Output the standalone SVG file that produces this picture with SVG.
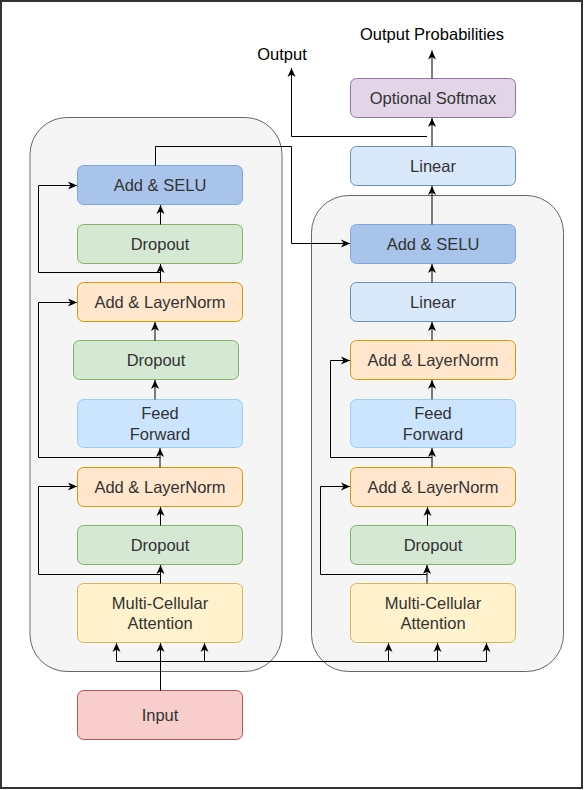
<svg xmlns="http://www.w3.org/2000/svg" width="584" height="790" viewBox="0 0 584 790">
<defs>
<style>
.t{font-family:"Liberation Sans",Arial,sans-serif;font-size:16.5px;fill:#333333;text-anchor:middle}
.lbl{font-family:"Liberation Sans",Arial,sans-serif;font-size:16.5px;fill:#000000;text-anchor:middle}
.panel{fill:#f5f5f5;stroke:#666666;stroke-width:1}
.selu{fill:#A9C4EB;stroke:#7EA6E0}
.drop{fill:#D5E8D4;stroke:#82B366}
.aln{fill:#FFE6CC;stroke:#D79B00}
.ff{fill:#CCE5FF;stroke:#99CCFF}
.mca{fill:#FFF2CC;stroke:#D6B656}
.inp{fill:#F8CECC;stroke:#B85450}
.lin{fill:#DAE8FC;stroke:#6C8EBF}
.soft{fill:#E1D5E7;stroke:#9673A6}
.c path{fill:none;stroke:#000000;stroke-width:1;marker-end:url(#a)}
.c path.n{marker-end:none}
</style>
<marker id="a" viewBox="-10 -5 10 10" refX="0" refY="0" markerWidth="10" markerHeight="10" orient="auto" markerUnits="userSpaceOnUse">
<path d="M0,0 L-9,-4 L-6.5,0 L-9,4 Z" fill="#000000"/>
</marker>
</defs>
<rect x="1" y="1" width="581" height="787" fill="#ffffff" stroke="#333333" stroke-width="2"/>
<g id="panel-left"><rect class="panel" x="30" y="117.5" width="252" height="554" rx="37" ry="37"/></g>
<g id="panel-right"><rect class="panel" x="311.5" y="195.5" width="252" height="476" rx="37" ry="37"/></g>

<g id="L_selu"><rect class="selu" x="77.5" y="165.5" width="165" height="39" rx="6"/><text class="t" x="160" y="191">Add &amp; SELU</text></g>
<g id="L_drop3"><rect class="drop" x="77.5" y="224.5" width="165" height="39" rx="6"/><text class="t" x="160" y="250">Dropout</text></g>
<g id="L_aln2"><rect class="aln" x="77.5" y="282.5" width="165" height="39" rx="6"/><text class="t" x="160" y="308">Add &amp; LayerNorm</text></g>
<g id="L_drop2"><rect class="drop" x="73.5" y="340.5" width="165" height="39" rx="6"/><text class="t" x="156" y="366">Dropout</text></g>
<g id="L_ff"><rect class="ff" x="77.5" y="399.5" width="165" height="48" rx="6"/><text class="t" x="160" y="419">Feed</text><text class="t" x="160" y="440">Forward</text></g>
<g id="L_aln1"><rect class="aln" x="77.5" y="467.5" width="165" height="39" rx="6"/><text class="t" x="160" y="493">Add &amp; LayerNorm</text></g>
<g id="L_drop1"><rect class="drop" x="77.5" y="525.5" width="165" height="39" rx="6"/><text class="t" x="160" y="551">Dropout</text></g>
<g id="L_mca"><rect class="mca" x="77.5" y="583.5" width="165" height="59" rx="6"/><text class="t" x="160" y="609">Multi-Cellular</text><text class="t" x="160" y="629">Attention</text></g>
<g id="input"><rect class="inp" x="77.5" y="690.5" width="165" height="49" rx="6"/><text class="t" x="160" y="721">Input</text></g>

<g id="softmax"><rect class="soft" x="350.5" y="78.5" width="165" height="39" rx="6"/><text class="t" x="433" y="104">Optional Softmax</text></g>
<g id="linear_top"><rect class="lin" x="350.5" y="146.5" width="165" height="39" rx="6"/><text class="t" x="433" y="172">Linear</text></g>
<g id="R_selu"><rect class="selu" x="350.5" y="224.5" width="165" height="39" rx="6"/><text class="t" x="433" y="250">Add &amp; SELU</text></g>
<g id="R_linear"><rect class="lin" x="350.5" y="282.5" width="165" height="39" rx="6"/><text class="t" x="433" y="308">Linear</text></g>
<g id="R_aln2"><rect class="aln" x="350.5" y="340.5" width="165" height="39" rx="6"/><text class="t" x="433" y="366">Add &amp; LayerNorm</text></g>
<g id="R_ff"><rect class="ff" x="350.5" y="399.5" width="165" height="48" rx="6"/><text class="t" x="433" y="419">Feed</text><text class="t" x="433" y="440">Forward</text></g>
<g id="R_aln1"><rect class="aln" x="350.5" y="467.5" width="165" height="39" rx="6"/><text class="t" x="433" y="493">Add &amp; LayerNorm</text></g>
<g id="R_drop"><rect class="drop" x="350.5" y="525.5" width="165" height="39" rx="6"/><text class="t" x="433" y="551">Dropout</text></g>
<g id="R_mca"><rect class="mca" x="350.5" y="583.5" width="165" height="59" rx="6"/><text class="t" x="433" y="609">Multi-Cellular</text><text class="t" x="433" y="629">Attention</text></g>

<g id="label-output"><text class="lbl" x="282" y="60">Output</text></g>
<g id="label-probs"><text class="lbl" x="432" y="40">Output Probabilities</text></g>

<g id="connectors" class="c">
<path d="M160.5,690.5 V643"/>
<path class="n" d="M116.5,661.5 H486.5"/>
<path d="M116.5,661.5 V643"/>
<path d="M204.5,661.5 V643"/>
<path d="M388.5,661.5 V643"/>
<path d="M437.5,661.5 V643"/>
<path d="M486.5,661.5 V643"/>
<path d="M160.5,583.5 V565"/>
<path d="M160.5,574.5 H38.5 V486.5 H77"/>
<path d="M160.5,525.5 V507"/>
<path d="M160,467.5 V448"/>
<path d="M160.5,457.5 H38.5 V302.5 H77"/>
<path d="M155,399.5 V380"/>
<path d="M155,340.5 V322"/>
<path d="M160.5,282.5 V264"/>
<path d="M160.5,272.5 H38.5 V185.5 H77"/>
<path d="M160.5,224.5 V205"/>
<path d="M155.5,165.5 V146.5 H291.5 V243.5 H350"/>
<path d="M427,583.5 V565"/>
<path d="M427,574.5 H320.5 V486.5 H350"/>
<path d="M427.5,525.5 V507"/>
<path d="M432,467.5 V448"/>
<path d="M432,457.5 H330.5 V360.5 H350"/>
<path d="M432,399.5 V380"/>
<path d="M432,340.5 V322"/>
<path d="M432,282.5 V264"/>
<path d="M432,224.5 V186"/>
<path d="M432,146.5 V118"/>
<path d="M432,78.5 V50.5"/>
<path d="M427,136.5 H291.5 V68"/>
</g>
</svg>
